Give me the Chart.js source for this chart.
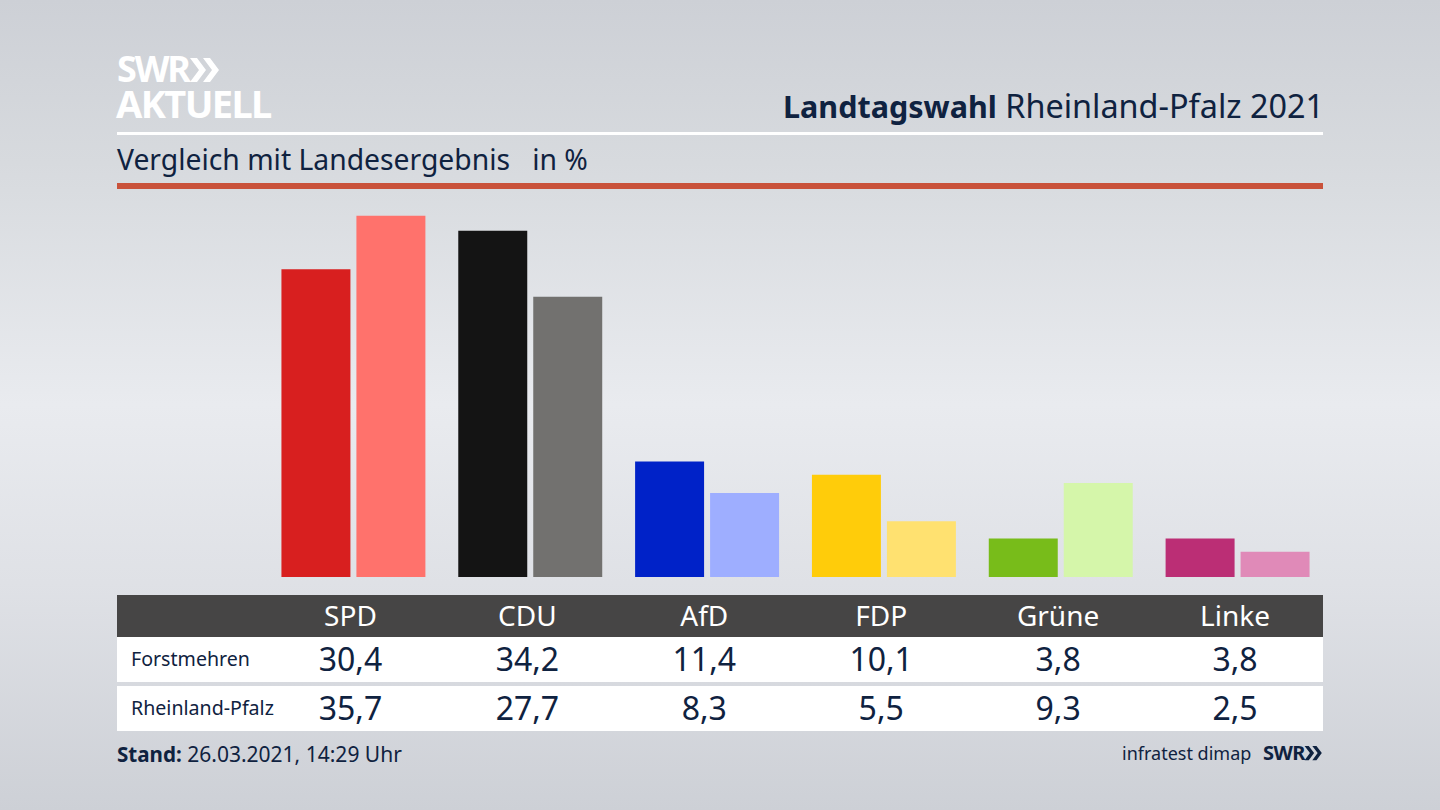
<!DOCTYPE html>
<html lang="de">
<head>
<meta charset="utf-8">
<title>Landtagswahl Rheinland-Pfalz 2021</title>
<script src="https://cdn.jsdelivr.net/npm/chart.js@4/dist/chart.umd.js"></script>
<style>
html, body { margin: 0; padding: 0; }
body {
    position: relative; width: 1440px; height: 810px; overflow: hidden;
    font-family: "Noto Sans", sans-serif; color: #0f2240;
    background: linear-gradient(180deg, #cdd0d6 0%, #d7dade 20%, #e9ebef 50%, #dfe1e6 72%, #cdd0d6 100%);
}
.abs { position: absolute; white-space: nowrap; }
.rule { position: absolute; left: 117px; width: 1206px; }
#chartbox { position: absolute; left: 264.5px; top: 200px; width: 1061px; height: 377px; }
.band { position: absolute; left: 117px; width: 1206px; }
.cell { position: absolute; transform: translateX(-50%); white-space: nowrap; text-align: center; }
</style>
</head>
<body>

<div class="abs" style="left:117px;top:46px;font-size:36px;font-weight:700;line-height:46px;color:#fff;letter-spacing:-2.2px">SWR</div>
<svg class="abs" style="left:189px;top:57px" width="32" height="26" viewBox="0 0 32 26">
    <path d="M1 1h7l9 12-9 12H1l9-12zM14 1h7l9 12-9 12h-7l9-12z" fill="#fff"/>
</svg>
<div class="abs" style="left:116px;top:80px;font-size:38px;font-weight:700;line-height:46px;color:#fff;letter-spacing:-1.6px">AKTUELL</div>

<div class="abs" style="right:116px;top:84px;font-size:32.4px;line-height:42px"><b style="font-size:30.5px">Landtagswahl</b> Rheinland-Pfalz 2021</div>
<div class="rule" style="top:132px;height:3px;background:#fff"></div>
<div class="abs" style="left:117px;top:140px;font-size:28.3px;line-height:38px">Vergleich mit Landesergebnis&nbsp;&nbsp; in %</div>
<div class="rule" style="top:183px;height:6px;background:#c9523b"></div>

<div id="chartbox"><canvas id="bars"></canvas></div>

<div class="band" style="top:595px;height:42px;background:#464545"></div>
<div class="band" style="top:637px;height:45px;background:#fff"></div>
<div class="band" style="top:686px;height:45px;background:#fff"></div>
<div id="table"></div>

<div class="abs" style="left:117px;top:739px;font-size:21px;line-height:30px"><b style="font-size:20.6px">Stand:</b> 26.03.2021, 14:29 Uhr</div>
<div class="abs" style="left:1122px;top:739px;font-size:18px;line-height:28px">infratest dimap</div>
<div class="abs" style="left:1263px;top:738px;font-size:20px;font-weight:700;line-height:30px;letter-spacing:-.5px">SWR</div>
<svg class="abs" style="left:1304px;top:745px" width="19" height="16" viewBox="0 0 32 26">
    <path d="M1 1h7l9 12-9 12H1l9-12zM14 1h7l9 12-9 12h-7l9-12z" fill="#0f2240"/>
</svg>

<script>
const parties = ['SPD', 'CDU', 'AfD', 'FDP', 'Grüne', 'Linke'];
const forstmehren = [30.4, 34.2, 11.4, 10.1, 3.8, 3.8];
const rheinlandPfalz = [35.7, 27.7, 8.3, 5.5, 9.3, 2.5];
const darkColors = ['#d81f1f', '#141414', '#0022c8', '#ffcc0a', '#78bc1a', '#bb2e75'];
const lightColors = ['#ff726c', '#72716f', '#9eaeff', '#ffe170', '#d5f6aa', '#e08ab8'];

function fmt(v) {
    return v.toFixed(1).replace('.', ',');
}

new Chart(document.getElementById('bars'), {
    type: 'bar',
    data: {
	labels: parties,
	datasets: [{
	    label: 'Forstmehren',
	    data: forstmehren,
	    backgroundColor: darkColors,
	    barPercentage: 0.92,
	    categoryPercentage: 0.848,
	},{
	    label: 'Rheinland-Pfalz',
	    data: rheinlandPfalz,
	    backgroundColor: lightColors,
	    barPercentage: 0.92,
	    categoryPercentage: 0.848,
	}],
    },
    options: {
	responsive: true,
	maintainAspectRatio: false,
	animation: false,
	layout: { padding: 0 },
	plugins: {
	    legend: { display: false },
	    tooltip: { enabled: false },
	},
	scales: {
	    x: { display: false },
	    y: { display: false, min: 0, max: 37.25 },
	},
    },
});

// table under the bars, columns are 177px apart like the chart categories
const table = document.getElementById('table');
function addCell(text, x, y, size, color) {
    const d = document.createElement('div');
    d.className = 'cell';
    d.textContent = text;
    d.style.cssText = `left:${x}px;top:${y}px;font-size:${size}px;color:${color};line-height:40px`;
    table.appendChild(d);
}
function addRowLabel(text, y) {
    const d = document.createElement('div');
    d.className = 'abs';
    d.textContent = text;
    d.style.cssText = `left:131px;top:${y}px;font-size:19.6px;line-height:40px`;
    table.appendChild(d);
}
addRowLabel('Forstmehren', 639);
addRowLabel('Rheinland-Pfalz', 688);
parties.forEach((p, i) => {
    const x = 350.5 + i * 176.9;
    addCell(p, x, 595, 28, '#fff');
    addCell(fmt(forstmehren[i]), x, 639, 32, '#0f2240');
    addCell(fmt(rheinlandPfalz[i]), x, 688, 32, '#0f2240');
});
</script>
</body>
</html>
